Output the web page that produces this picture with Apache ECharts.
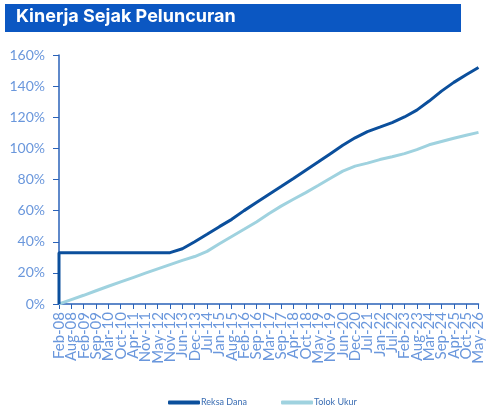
<!DOCTYPE html>
<html><head><meta charset="utf-8">
<script src="https://cdn.jsdelivr.net/npm/echarts@6/dist/echarts.min.js"></script>
<style>html,body{margin:0;padding:0;background:#fff}#c{width:486px;height:413px}</style>
</head><body><div id="c"></div>
<script>
var categories = ['Feb-08','Aug-08','Feb-09','Sep-09','Mar-10','Oct-10','Apr-11','Nov-11','May-12','Nov-12','Jun-13','Dec-13','Jul-14','Jan-15','Aug-15','Feb-16','Sep-16','Mar-17','Sep-17','Apr-18','Oct-18','May-19','Nov-19','Jun-20','Dec-20','Jul-21','Jan-22','Jul-22','Feb-23','Aug-23','Mar-24','Sep-24','Apr-25','Oct-25','May-26'];
var reksaStart = 0;
var reksaDana = [33,33,33,33,33,33,33,33,33,33,35.5,40,44.8,49.7,54.4,60,65.2,70.4,75.5,80.7,86,91.2,96.6,102,106.8,110.8,113.6,116.5,120.2,124.6,130.4,136.8,142.4,147.3,152];
var tolokUkur = [0,2.8,5.6,8.5,11.4,14.2,17,19.8,22.6,25.3,28,30.5,33.8,38.7,43.4,48,52.7,58,62.9,67.3,71.6,76.1,80.8,85.4,88.6,90.5,92.8,94.6,96.6,99.2,102.3,104.4,106.5,108.4,110.3];
var yTicks = [0,20,40,60,80,100,120,140,160];

var reksaData = [[0, reksaStart]].concat(reksaDana.map(function(v,i){return [i,v];}));
var chart = echarts.init(document.getElementById('c'), null, {renderer:'canvas'});
var lblColor = '#6a97dc';
var axisColor = '#2a62b8';
chart.setOption({
  animation:false,
  graphic:[
    {type:'rect', shape:{x:5,y:4,width:456,height:28}, style:{fill:'#0b57c2'}},
    {type:'text', left:16, top:8, style:{text:'Kinerja Sejak Peluncuran', fill:'#fff', font:'bold 18px Inter, "Noto Sans", sans-serif'}}
  ],
  grid:{left:59, right:4, top:55, bottom:109, containLabel:false},
  legend:{
    bottom:1, left:163, itemWidth:32, itemHeight:4, itemGap:34,
    icon:'roundRect',
    textStyle:{color:'#3a6db3', fontSize:9, fontFamily:'Lato, sans-serif', padding:[0,0,0,-4]},
    data:['Reksa Dana','Tolok Ukur']
  },
  xAxis:{
    type:'category', data:categories, boundaryGap:false,
    axisLine:{lineStyle:{color:axisColor, width:1.5}},
    axisTick:{show:true, interval:0, length:5, lineStyle:{color:axisColor}},
    axisLabel:{interval:0, rotate:90, color:lblColor, fontSize:15, fontFamily:'Lato, sans-serif', margin:8},
    splitLine:{show:false}
  },
  yAxis:{
    type:'value', min:0, max:160, interval:20,
    axisLine:{show:true, lineStyle:{color:axisColor, width:1.5}},
    axisTick:{show:true, length:6, lineStyle:{color:axisColor}},
    axisLabel:{color:lblColor, fontSize:14, fontFamily:'Lato, sans-serif', margin:14, formatter:'{value}%'},
    splitLine:{show:false}
  },
  series:[
    {name:'Reksa Dana', type:'line', data:reksaData, symbol:'none', lineStyle:{color:'#0b4f9c', width:3}, itemStyle:{color:'#0b4f9c'}, z:3},
    {name:'Tolok Ukur', type:'line', data:tolokUkur, symbol:'none', lineStyle:{color:'#9fd2df', width:3}, itemStyle:{color:'#9fd2df'}, z:2}
  ]
});
</script></body></html>
